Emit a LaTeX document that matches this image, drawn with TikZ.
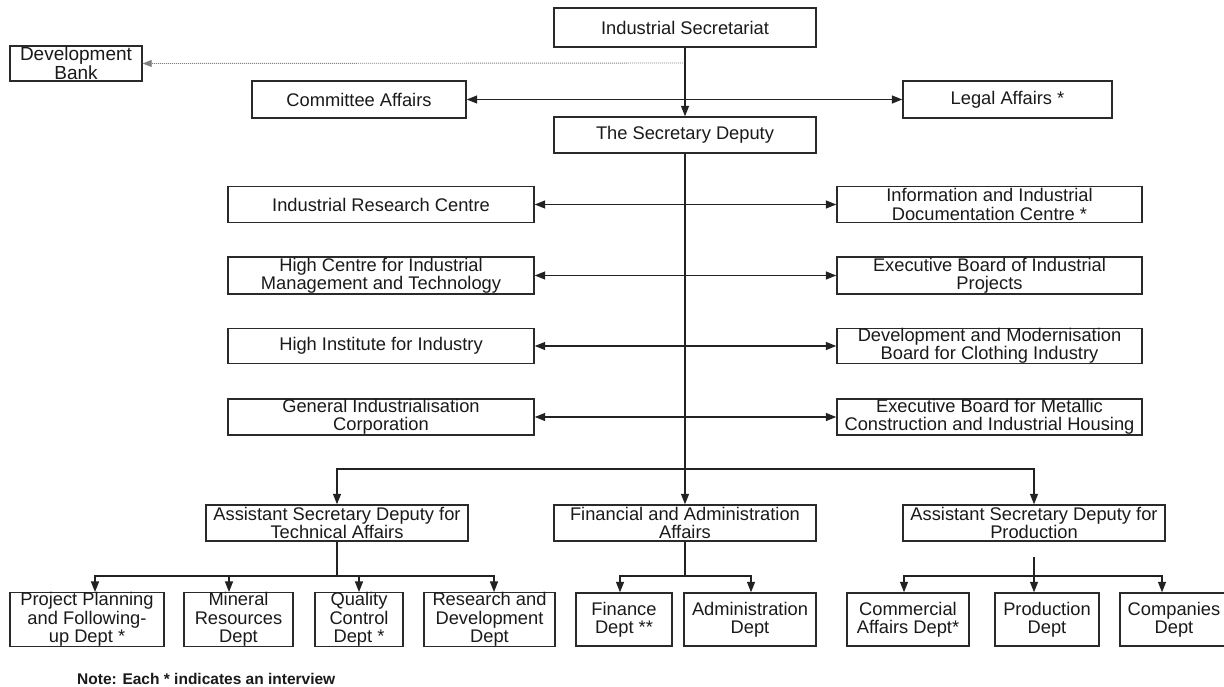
\documentclass[tikz,border=0pt]{standalone}
\usepackage{fontspec}
\setmainfont{Liberation Sans}
\usetikzlibrary{arrows.meta}
\definecolor{boxc}{HTML}{2A2A2A}
\definecolor{linec}{HTML}{222222}
\definecolor{txtc}{HTML}{1A1A1A}
\begin{document}
\begin{tikzpicture}[x=1pt,y=-1pt,
  box/.style={draw=boxc, line width=1.4pt, inner sep=0pt, align=center, text=txtc,
    font=\fontsize{18.3}{18.3}\selectfont},
  conn/.style={draw=linec, line width=1.3pt},
  arr/.style={conn, -{Triangle[length=10.5pt,width=8pt]}},
  darr/.style={conn, {Triangle[length=10.5pt,width=8pt]}-{Triangle[length=10.5pt,width=8pt]}},
  dotc/.style={draw=gray, line width=0.9pt, dash pattern=on 1pt off 1pt, -{Triangle[length=9pt,width=7pt]}},
  note/.style={font=\bfseries\fontsize{15.5}{17}\selectfont, text=txtc, inner sep=0pt, anchor=west},
]
\useasboundingbox (0,0) rectangle (1224,687);
\fill[white] (0,0) rectangle (1224,687);

% top
\node[box, minimum width=262pt, minimum height=39pt] (sec) at (685,27.5) {Industrial Secretariat};
\node[box, minimum width=132pt, minimum height=35pt, font=\fontsize{19}{17}\selectfont] (bank) at (76,63.5) {Development\\Bank};
\node[box, minimum width=214pt, minimum height=37pt] (comm) at (359,99.5) {Committee Affairs};
\node[box, minimum width=209pt, minimum height=37pt] (legal) at (1007.5,99.5) {Legal Affairs *};
\node[box, minimum width=262pt, minimum height=36pt] (dep) at (685,135) {The Secretary Deputy};

% rows
\node[box, minimum width=306pt, minimum height=36pt] (l1) at (381,204.5) {Industrial Research Centre};
\node[box, minimum width=305pt, minimum height=36pt] (r1) at (989.5,204.5) {Information and Industrial\\Documentation Centre *};
\node[box, minimum width=306pt, minimum height=37pt] (l2) at (381,275.5) {High Centre for Industrial\\Management and Technology};
\node[box, minimum width=305pt, minimum height=37pt] (r2) at (989.5,275.5) {Executive Board of Industrial\\Projects};
\node[box, minimum width=306pt, minimum height=35pt] (l3) at (381,346) {High Institute for Industry};
\node[box, minimum width=305pt, minimum height=35pt] (r3) at (989.5,346) {Development and Modernisation\\Board for Clothing Industry};
\node[box, minimum width=306pt, minimum height=36pt] (l4) at (381,417) {General Industrialisation\\Corporation};
\node[box, minimum width=305pt, minimum height=36pt] (r4) at (989.5,417) {Executive Board for Metallic\\Construction and Industrial Housing};

% second level
\node[box, minimum width=262pt, minimum height=36pt] (tech) at (337,523) {Assistant Secretary Deputy for\\Technical Affairs};
\node[box, minimum width=262pt, minimum height=36pt] (fin) at (685,523) {Financial and Administration\\Affairs};
\node[box, minimum width=262pt, minimum height=36pt] (prod) at (1034,523) {Assistant Secretary Deputy for\\Production};

% departments
\node[box, minimum width=154pt, minimum height=53pt] (pp) at (87,619.5) {Project Planning\\and Following-\\up Dept *};
\node[box, minimum width=109pt, minimum height=53pt] (mr) at (238.5,619.5) {Mineral\\Resources\\Dept};
\node[box, minimum width=88pt, minimum height=53pt] (qc) at (359,619.5) {Quality\\Control\\Dept *};
\node[box, minimum width=131pt, minimum height=53pt] (rd) at (489.5,619.5) {Research and\\Development\\Dept};
\node[box, minimum width=96pt, minimum height=53pt] (fd) at (624,619.5) {Finance\\Dept **};
\node[box, minimum width=132pt, minimum height=53pt] (ad) at (750,619.5) {Administration\\Dept};
\node[box, minimum width=122pt, minimum height=53pt] (cd) at (908,619.5) {Commercial\\Affairs Dept*};
\node[box, minimum width=104pt, minimum height=53pt] (pd) at (1047,619.5) {Production\\Dept};
\node[box, minimum width=108pt, minimum height=53pt] (co) at (1174,619.5) {Companies\\Dept};

\node[note] (nt) at (77,679) {Note: Each * indicates an interview};

% connectors top
\coordinate (dotj) at (685,63);
\draw[dotc] (dotj) -- (bank.east);
\draw[arr] (sec.south) -- (dep.north);
\draw[darr] (comm.east) -- (legal.west);

% main trunk
\draw[arr] (dep.south) -- (fin.north);
\foreach \i in {1,2,3,4} {\draw[darr] (l\i.east) -- (r\i.west);}
\coordinate (mbus) at (685,469);
\draw[arr] (mbus) -| (tech.north);
\draw[arr] (mbus) -| (prod.north);

% technical subtree
\coordinate (tbus) at (337,576);
\draw[conn] (tech.south) -- (tbus);
\draw[arr] (tbus) -| ([xshift=8pt]pp.north);
\draw[arr] (tbus) -| ([xshift=-9.5pt]mr.north);
\draw[arr] (tbus) -| (qc.north);
\draw[arr] (tbus) -| ([xshift=4.5pt]rd.north);

% financial subtree
\coordinate (fbus) at (685,576);
\draw[conn] (fin.south) -- (fbus);
\draw[arr] (fbus) -| ([xshift=-4pt]fd.north);
\draw[arr] (fbus) -| ([xshift=1pt]ad.north);

% production subtree
\coordinate (pstem) at (1034,557);
\coordinate (pbus) at (1034,576);
\draw[conn] (pstem) -- (pbus);
\draw[arr] (pbus) -| ([xshift=-4pt]cd.north);
\draw[arr] (pbus) -- ([xshift=-13pt]pd.north);
\draw[arr] (pbus) -| ([xshift=-12pt]co.north);
\end{tikzpicture}
\end{document}
